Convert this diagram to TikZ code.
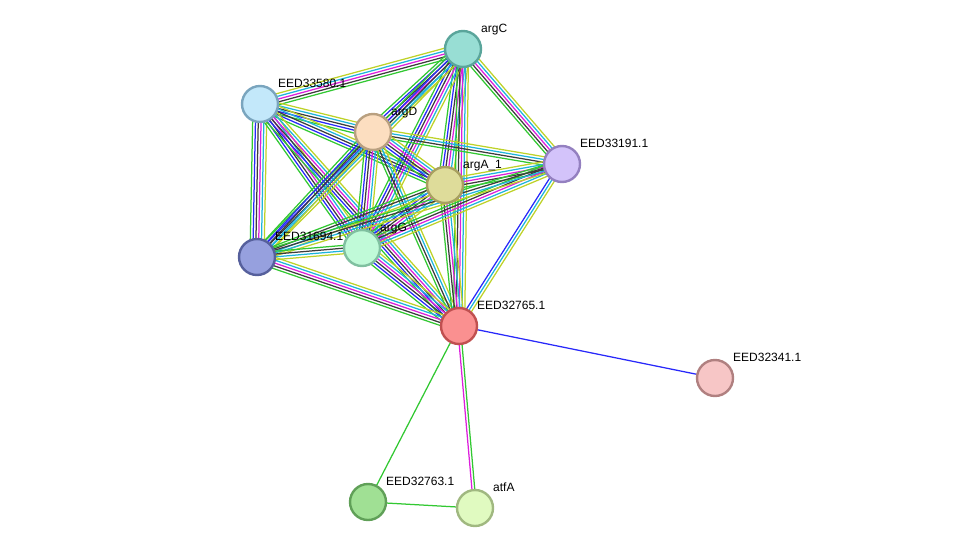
\documentclass[tikz,border=0pt]{standalone}
\usepackage{fontspec}
\setmainfont{Liberation Sans}
\usetikzlibrary{calc,backgrounds}
\definecolor{evg}{RGB}{50,200,50}
\definecolor{evb}{RGB}{40,40,250}
\definecolor{evk}{RGB}{60,60,60}
\definecolor{evm}{RGB}{220,30,220}
\definecolor{evc}{RGB}{30,180,220}
\definecolor{evy}{RGB}{190,210,40}
\newcommand\bund[3]{%
  \gdef\bundn{0}%
  \foreach \bcol in {#3}{\xdef\bundn{\the\numexpr\bundn+1\relax}}%
  \foreach \bcol [count=\bidx] in {#3}{%
    \pgfmathsetmacro\boff{(\bidx-(\bundn+1)/2)*2.8}%
    \draw[draw=ev\bcol, line width=1.25pt] ($(#1.center)!\boff pt!90:(#2.center)$) -- ($(#2.center)!\boff pt!-90:(#1.center)$);
  }}
\tikzset{
  prot/.style={circle, draw, line width=2.4pt, minimum size=36pt, inner sep=0pt},
  lab/.style={anchor=base west, font=\fontsize{12}{14}\selectfont, inner sep=0pt, text=black},
}
\begin{document}
\begin{tikzpicture}[x=1pt,y=-1pt]
\useasboundingbox (0,0) rectangle (976,554);
% nodes
\node[prot, fill={rgb,255:red,152;green,222;blue,212}, draw={rgb,255:red,90;green,165;blue,155}] (C) at (463,49) {};
\node[prot, fill={rgb,255:red,195;green,232;blue,250}, draw={rgb,255:red,122;green,165;blue,190}] (E80) at (260,104) {};
\node[prot, fill={rgb,255:red,252;green,222;blue,192}, draw={rgb,255:red,185;green,160;blue,128}] (D) at (373,132) {};
\node[prot, fill={rgb,255:red,211;green,195;blue,250}, draw={rgb,255:red,148;green,128;blue,192}] (E91) at (562,164) {};
\node[prot, fill={rgb,255:red,222;green,220;blue,154}, draw={rgb,255:red,168;green,160;blue,96}] (A) at (445,185) {};
\node[prot, fill={rgb,255:red,150;green,160;blue,222}, draw={rgb,255:red,86;green,96;blue,156}] (E94) at (257,257) {};
\node[prot, fill={rgb,255:red,192;green,250;blue,216}, draw={rgb,255:red,128;green,192;blue,160}] (G) at (362,248) {};
\node[prot, fill={rgb,255:red,250;green,144;blue,144}, draw={rgb,255:red,192;green,80;blue,80}] (E65) at (459,326) {};
\node[prot, fill={rgb,255:red,247;green,198;blue,198}, draw={rgb,255:red,176;green,128;blue,128}] (E41) at (715,378) {};
\node[prot, fill={rgb,255:red,160;green,224;blue,148}, draw={rgb,255:red,96;green,160;blue,88}] (E63) at (368,502) {};
\node[prot, fill={rgb,255:red,224;green,250;blue,192}, draw={rgb,255:red,160;green,184;blue,128}] (F) at (475,508) {};
% labels
\node[lab] (lC) at (481,32) {argC};
\node[lab] (lE80) at (278,87) {EED33580.1};
\node[lab] (lD) at (391,115) {argD};
\node[lab] (lE91) at (580,147) {EED33191.1};
\node[lab] (lA) at (463,168) {argA\_1};
\node[lab] (lE94) at (275,240) {EED31694.1};
\node[lab] (lG) at (380,231) {argG};
\node[lab] (lE65) at (477,309) {EED32765.1};
\node[lab] (lE41) at (733,361) {EED32341.1};
\node[lab] (lE63) at (386,485) {EED32763.1};
\node[lab] (lF) at (493,491) {atfA};
% edges
\begin{pgfonlayer}{background}
\bund{E80}{C}{g,k,m,c,y}
\bund{E80}{D}{g,b,k,c,y}
\bund{E80}{A}{g,b,k,c,y}
\bund{E80}{E94}{g,b,k,m,c,y}
\bund{E80}{G}{g,b,k,m,c,y}
\bund{E80}{E65}{g,b,k,m,c,y}
\bund{C}{D}{g,b,k,m,c,y}
\bund{C}{A}{g,b,k,m,c,y}
\bund{C}{E91}{g,k,m,c,y}
\bund{C}{G}{g,b,k,m,c,y}
\bund{C}{E94}{g,b,k,c,y}
\bund{C}{E65}{g,k,m,c,y}
\bund{D}{E91}{g,k,c,y}
\bund{D}{A}{g,b,k,m,c,y}
\bund{D}{G}{g,b,k,m,c,y}
\bund{D}{E94}{g,b,k,c,y}
\bund{D}{E65}{g,k,c,y}
\bund{A}{E91}{g,k,m,c,y}
\bund{A}{G}{g,b,k,m,c,y}
\bund{A}{E94}{g,k,c,y}
\bund{A}{E65}{g,k,m,c,y}
\bund{E91}{G}{g,k,m,c,y}
\bund{E91}{E94}{g,k,c,y}
\bund{E91}{E65}{b,c,y}
\bund{G}{E94}{g,k,c,y}
\bund{G}{E65}{g,b,k,m,c,y}
\bund{E94}{E65}{g,k,m,c,y}
\bund{E65}{E41}{b}
\bund{E65}{E63}{g}
\bund{E65}{F}{m,g}
\bund{E63}{F}{g}
\end{pgfonlayer}
\end{tikzpicture}
\end{document}
